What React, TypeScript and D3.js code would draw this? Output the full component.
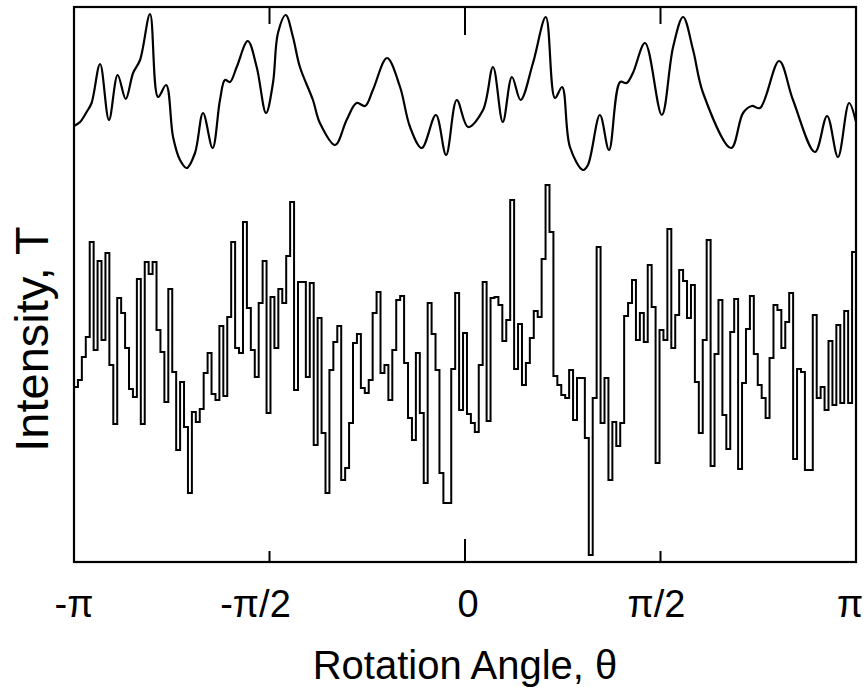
import * as d3 from 'd3';

// x axis: rotation angle in degrees (-180..180 shown as -π..π)
const angleTicks = [-180, -90, 0, 90, 180];
const tickLabels = ['-π', '-π/2', '0', 'π/2', 'π'];

// upper smooth trace: angle (deg) and intensity (arb. units)
const smoothAngle = [
  -180, -177.2, -174.2, -171.9, -168.0, -163.9, -159.9, -156.2, -152.8, -149.6,
  -145.0, -141.3, -137.6, -134.4, -131.2, -128.1, -124.3, -120.6, -116.2, -112.8,
  -110.5, -108.2, -105.1, -100.0, -95.9, -91.6, -88.4, -86.1, -82.5, -79.2,
  -76.0, -70.0, -66.8, -59.8, -54.5, -49.9, -46.0, -42.4, -35.9, -29.9,
  -25.3, -19.9, -13.4, -8.7, -3.8, 1.4, 8.3, 12.9, 17.4, 21.6,
  25.6, 31.3, 37.2, 41.4, 44.7, 48.3, 54.3, 56.6, 62.1, 66.3,
  71.4, 74.4, 77.3, 82.9, 90.6, 95.8, 100.4, 105.0, 109.6, 122.5,
  128.0, 132.0, 135.8, 144.6, 151.0, 161.1, 166.7, 171.7, 176.8, 180,
];
const smoothIntensity = [
  436, 440, 450, 459, 498, 442, 487, 463, 489, 502,
  548, 465, 477, 425, 402, 394, 409, 449, 414, 462,
  482, 480, 495, 521, 495, 449, 479, 529, 547, 525,
  495, 462, 439, 417, 442, 459, 456, 472, 504, 475,
  435, 414, 447, 407, 462, 435, 452, 495, 440, 485,
  462, 499, 545, 464, 475, 415, 392, 397, 447, 412,
  480, 479, 489, 519, 447, 515, 545, 512, 469, 414,
  449, 456, 454, 501, 462, 410, 446, 405, 459, 440,
];

// lower stepped trace: one intensity per equal angle bin across -π..π
const stepIntensity = [
  175, 182, 205, 225, 320, 212, 301, 222, 309, 197,
  138, 264, 249, 214, 173, 165, 283, 138, 300, 288,
  300, 232, 210, 160, 273, 190, 112, 180, 135, 69,
  150, 140, 153, 189, 209, 168, 162, 236, 166, 245,
  320, 214, 209, 340, 254, 212, 185, 259, 301, 149,
  265, 214, 273, 259, 306, 360, 172, 280, 280, 185,
  279, 117, 244, 129, 69, 192, 220, 236, 82, 94,
  139, 219, 228, 174, 169, 182, 249, 270, 189, 197,
  162, 212, 262, 266, 199, 144, 122, 209, 149, 79,
  259, 228, 192, 89, 59, 59, 193, 269, 152, 229,
  148, 139, 130, 197, 280, 141, 264, 265, 257, 221,
  242, 362, 193, 238, 177, 199, 224, 251, 245, 303,
  377, 330, 186, 177, 167, 164, 192, 142, 184, 184,
  124, 7, 164, 315, 139, 184, 82, 140, 116, 139,
  246, 259, 282, 222, 249, 220, 297, 255, 99, 232,
  222, 333, 214, 247, 292, 281, 244, 277, 180, 129,
  222, 322, 96, 208, 262, 147, 113, 230, 263, 93,
  179, 233, 266, 208, 177, 164, 144, 204, 257, 252,
  214, 240, 269, 103, 193, 190, 92, 92, 247, 164,
  175, 152, 221, 157, 237, 159, 251, 159, 310,
];

// small horizontal nudges of the tick labels, as set in the original figure
const labelShift = [0, -14, 3, -4, -6];

export default function App() {
  const width = 865;
  const height = 687;
  const margin = { left: 74, right: 9, top: 7, bottom: 125 };

  const x = d3.scaleLinear().domain([-180, 180]).range([margin.left, width - margin.right]);
  const y = d3.scaleLinear().domain([0, 555]).range([height - margin.bottom, margin.top]);

  const smoothLine = d3.line<number>()
    .x((d, i) => x(smoothAngle[i]))
    .y(d => y(d))
    .curve(d3.curveCatmullRom.alpha(0.5));

  const binWidth = 360 / stepIntensity.length;
  const stepPoints: [number, number][] = stepIntensity.map((v, i) => [-180 + i * binWidth, v]);
  stepPoints.push([180, stepIntensity[stepIntensity.length - 1]]);
  const stepLine = d3.line<[number, number]>()
    .x(d => x(d[0]))
    .y(d => y(d[1]))
    .curve(d3.curveStepAfter);

  const [y0, y1] = y.range();
  const font = '"Liberation Sans", Arial, sans-serif';

  return (
    <svg width={width} height={height} style={{ position: 'absolute', left: 0, top: 0, background: '#fff' }}>
      <path d={stepLine(stepPoints) || ''} fill="none" stroke="#000" strokeWidth={2} />
      <path d={smoothLine(smoothIntensity) || ''} fill="none" stroke="#000" strokeWidth={2.2} />

      <rect x={x(-180)} y={y1} width={x(180) - x(-180)} height={y0 - y1}
        fill="none" stroke="#000" strokeWidth={2.2} />

      {angleTicks.slice(1, -1).map(t => (
        <g key={t}>
          <line x1={x(t)} x2={x(t)} y1={y0} y2={y0 - (t === 0 ? 23 : 11)} stroke="#000" strokeWidth={2} />
          <line x1={x(t)} x2={x(t)} y1={y1} y2={y1 + (t === 0 ? 28 : 17)} stroke="#000" strokeWidth={2} />
        </g>
      ))}

      {angleTicks.map((t, i) => (
        <text key={t} x={x(t) + labelShift[i]} y={617} textAnchor="middle" fontFamily={font} fontSize={38}>
          {tickLabels[i]}
        </text>
      ))}

      <text x={(x(-180) + x(180)) / 2} y={679} textAnchor="middle" fontFamily={font} fontSize={40}>
        Rotation Angle, θ
      </text>
      <text transform={`translate(48, 339) rotate(-90)`} textAnchor="middle" fontFamily={font} fontSize={47}>
        Intensity, T
      </text>
    </svg>
  );
}
